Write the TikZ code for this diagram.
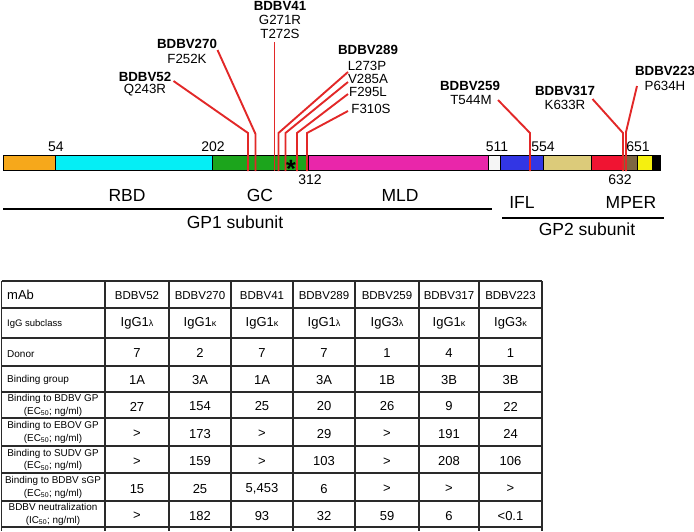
\documentclass[tikz,border=0pt]{standalone}
\usepackage{fontspec}
\setmainfont{Liberation Sans}
\definecolor{sOrange}{HTML}{F6A81B}
\definecolor{sCyan}{HTML}{05EEF5}
\definecolor{sGreen}{HTML}{1CA51C}
\definecolor{sMagenta}{HTML}{E926AA}
\definecolor{sWhite}{HTML}{F5F5F5}
\definecolor{sBlue}{HTML}{3236E4}
\definecolor{sTan}{HTML}{DCCB7A}
\definecolor{sRed}{HTML}{F01432}
\definecolor{sBrown}{HTML}{7D6642}
\definecolor{sYellow}{HTML}{F5F00F}
\definecolor{mutRed}{HTML}{E22828}
\definecolor{gridC}{HTML}{2A2A2A}
\begin{document}
\begin{tikzpicture}[x=1pt,y=-1pt,
  lbl/.style={font=\fontsize{13.3}{15}\selectfont, inner sep=0pt},
  mab/.style={font=\bfseries\fontsize{13.3}{15}\selectfont, inner sep=0pt},
  posnum/.style={font=\fontsize{14}{16}\selectfont, inner sep=0pt},
  dom/.style={font=\fontsize{17.5}{20}\selectfont, inner sep=0pt},
  mutline/.style={draw=mutRed, line width=1.9pt},
  tgrid/.style={draw=gridC, line width=1.1pt},
  hdr/.style={font=\fontsize{11.5}{13}\selectfont, inner sep=0pt},
  val/.style={font=\fontsize{13}{15}\selectfont, inner sep=0pt},
  rowlbl/.style={font=\fontsize{10}{12}\selectfont, inner sep=0pt, anchor=west},
  rowlbl2/.style={font=\fontsize{9.9}{12.2}\selectfont, inner sep=0pt, align=center}
]
\useasboundingbox (0,0) rectangle (694,531);

% ---- domain bar ----
\fill[sOrange]  (3,155.5) rectangle (55,170.5);
\fill[sCyan]    (55,155.5) rectangle (212,170.5);
\fill[sGreen]   (212,155.5) rectangle (308,170.5);
\fill[sMagenta] (308,155.5) rectangle (488,170.5);
\fill[sWhite]   (488,155.5) rectangle (500,170.5);
\fill[sBlue]    (500,155.5) rectangle (543,170.5);
\fill[sTan]     (543,155.5) rectangle (591,170.5);
\fill[sRed]     (591,155.5) rectangle (622,170.5);
\fill[sBrown]   (622,155.5) rectangle (637,170.5);
\fill[sYellow]  (637,155.5) rectangle (652,170.5);
\fill[black]    (652,155.5) rectangle (660,170.5);
\foreach \xx in {55,212,308,488,500,543,591,622,637,652}
  \draw[line width=0.9pt] (\xx,155.5) -- (\xx,170.5);
\draw[line width=1pt] (3,155.5) rectangle (660,170.5);

% ---- position numbers ----
\node[posnum] (p54)  at (56,147) {54};
\node[posnum] (p202) at (213,147) {202};
\node[posnum] (p312) at (310,179.5) {312};
\node[posnum] (p511) at (497,147) {511};
\node[posnum] (p554) at (543,147) {554};
\node[posnum] (p651) at (638,147) {651};
\node[posnum] (p632) at (620,180) {632};

% ---- domain labels ----
\node[dom] (rbd)  at (127,195) {RBD};
\node[dom] (gc)   at (260,195) {GC};
\node[dom] (mld)  at (400,195) {MLD};
\node[dom] (ifl)  at (522,202) {IFL};
\node[dom] (mper) at (631,202) {MPER};
\coordinate (g1a) at (3,209);
\coordinate (g1b) at (492,209);
\draw[line width=1.1pt] (g1a) -- (g1b);
\node[dom] (gp1) at (235,222) {GP1 subunit};
\coordinate (g2a) at (502,218);
\coordinate (g2b) at (664,218);
\draw[line width=1.1pt] (g2a) -- (g2b);
\node[dom] (gp2) at (587,229) {GP2 subunit};

% ---- mutation labels ----
\node[mab] (n52)   at (145,77) {BDBV52};
\node[lbl] (m52)   at (145,90) {Q243R};
\node[mab] (n270)  at (187,44) {BDBV270};
\node[lbl] (m270)  at (187,59) {F252K};
\node[mab] (n41)   at (280,5.5) {BDBV41};
\node[lbl] (m41a)  at (280,20) {G271R};
\node[lbl] (m41b)  at (280,34) {T272S};
\node[mab] (n289)  at (368,50) {BDBV289};
\node[lbl] (m289a) at (367,66) {L273P};
\node[lbl] (m289b) at (368,79) {V285A};
\node[lbl] (m289c) at (368,92) {F295L};
\node[lbl] (m289d) at (371,109) {F310S};
\node[mab] (n259)  at (470,86) {BDBV259};
\node[lbl] (m259)  at (471,100) {T544M};
\node[mab] (n317)  at (565,91) {BDBV317};
\node[lbl] (m317)  at (565,105) {K633R};
\node[mab] (n223)  at (665,71) {BDBV223};
\node[lbl] (m223)  at (665,86) {P634H};

% ---- mutation connectors ----
\coordinate (s52) at (173.5,81);   \coordinate (k52) at (248,133);  \coordinate (b52) at (248,171);
\coordinate (s270) at (217.5,50);  \coordinate (k270) at (255.5,134); \coordinate (b270) at (255.5,171);
\coordinate (s41) at (274.5,42);   \coordinate (b41) at (274.5,171);
\coordinate (s289a) at (348,72);   \coordinate (k289a) at (278.5,133); \coordinate (b289a) at (278.5,171);
\coordinate (s289b) at (348,82);   \coordinate (k289b) at (285.5,133); \coordinate (b289b) at (285.5,171);
\coordinate (s289c) at (348,94);   \coordinate (k289c) at (297,133);   \coordinate (b289c) at (297,171);
\coordinate (s289d) at (348,111);  \coordinate (k289d) at (307,133);   \coordinate (b289d) at (307,171);
\coordinate (s259) at (498,100);   \coordinate (k259) at (530,133);    \coordinate (b259) at (530,171);
\coordinate (s317) at (592.5,99);  \coordinate (k317) at (623,133);    \coordinate (b317) at (623,171);
\coordinate (s223) at (637,86);    \coordinate (k223) at (626,132);    \coordinate (b223) at (626,171);
\draw[mutline] (s52) -- (k52) -- (b52);
\draw[mutline] (s270) -- (k270) -- (b270);
\draw[mutline] (s41) -- (b41);
\draw[mutline] (s289a) -- (k289a) -- (b289a);
\draw[mutline] (s289b) -- (k289b) -- (b289b);
\draw[mutline] (s289c) -- (k289c) -- (b289c);
\draw[mutline] (s289d) -- (k289d) -- (b289d);
\draw[mutline] (s259) -- (k259) -- (b259);
\draw[mutline] (s317) -- (k317) -- (b317);
\draw[mutline] (s223) -- (k223) -- (b223);

\node[font=\bfseries\fontsize{25}{25}\selectfont, inner sep=0pt] (star) at (291,168.5) {*};

% ---- table grid ----
\foreach \yy in {281,308,338,366,392,418,446,473,501,527}
  \draw[tgrid] (1.5,\yy) -- (542,\yy);
\foreach \xx in {1.5,105,169,231,293,355,419,479,542}
  \draw[tgrid] (\xx,281) -- (\xx,531);

% ---- table left column ----
\node[font=\fontsize{13}{15}\selectfont, inner sep=0pt, anchor=west] (lab1) at (7,295) {mAb};
\node[rowlbl, font=\fontsize{9.5}{11}\selectfont] (lab2) at (7,324.5) {IgG subclass};
\node[rowlbl] (lab3) at (7,354) {Donor};
\node[rowlbl] (lab4) at (7,380) {Binding group};
\node[rowlbl2] (lab5) at (53,405.5) {Binding to BDBV GP\\(EC\textsubscript{50}; ng/ml)};
\node[rowlbl2] (lab6) at (53,432.5) {Binding to EBOV GP\\(EC\textsubscript{50}; ng/ml)};
\node[rowlbl2] (lab7) at (53,460) {Binding to SUDV GP\\(EC\textsubscript{50}; ng/ml)};
\node[rowlbl2] (lab8) at (53,487.5) {Binding to BDBV sGP\\(EC\textsubscript{50}; ng/ml)};
\node[rowlbl2] (lab9) at (53,514.5) {BDBV neutralization\\(IC\textsubscript{50}; ng/ml)};

% ---- table values ----
\newcommand{\lam}{{\fontsize{9}{9}\selectfont λ}}
\newcommand{\kap}{{\fontsize{9}{9}\selectfont κ}}
\foreach \cx/\t [count=\c] in {137/BDBV52,200/BDBV270,262/BDBV41,324/BDBV289,387/BDBV259,449/BDBV317,510.5/BDBV223}
  \node[hdr] (t1-\c) at (\cx,295.5) {\t};
\foreach \cx/\t [count=\c] in {137/IgG1\lam,200/IgG1\kap,262/IgG1\kap,324/IgG1\lam,387/IgG3\lam,449/IgG1\kap,510.5/IgG3\kap}
  \node[val] (t2-\c) at (\cx,323.5) {\t};
\foreach \cx/\t [count=\c] in {137/7,200/2,262/7,324/7,387/1,449/4,510.5/1}
  \node[val] (t3-\c) at (\cx,353) {\t};
\foreach \cx/\t [count=\c] in {137/1A,200/3A,262/1A,324/3A,387/1B,449/3B,510.5/3B}
  \node[val] (t4-\c) at (\cx,380) {\t};
\foreach \cx/\t [count=\c] in {137/27,200/154,262/25,324/20,387/26,449/9,510.5/22}
  \node[val] (t5-\c) at (\cx,406.5) {\t};
\foreach \cx/\t [count=\c] in {137/>,200/173,262/>,324/29,387/>,449/191,510.5/24}
  \node[val] (t6-\c) at (\cx,434) {\t};
\foreach \cx/\t [count=\c] in {137/>,200/159,262/>,324/103,387/>,449/208,510.5/106}
  \node[val] (t7-\c) at (\cx,461.5) {\t};
\foreach \cx/\t [count=\c] in {137/15,200/25,262/{5,453},324/6,387/>,449/>,510.5/>}
  \node[val] (t8-\c) at (\cx,489) {\t};
\foreach \cx/\t [count=\c] in {137/>,200/182,262/93,324/32,387/59,449/6,510.5/<0.1}
  \node[val] (t9-\c) at (\cx,516) {\t};
\end{tikzpicture}
\end{document}
